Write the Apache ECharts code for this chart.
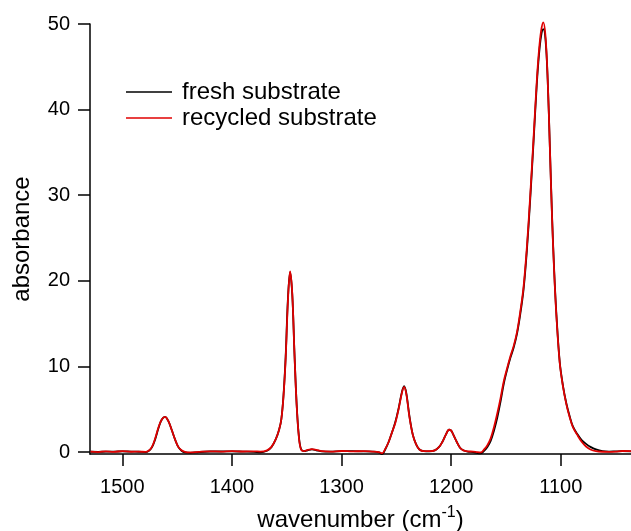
<!DOCTYPE html>
<html>
<head>
<meta charset="utf-8">
<script src="https://cdn.jsdelivr.net/npm/echarts@6/dist/echarts.min.js"></script>
<style>
  html, body { margin: 0; padding: 0; background: #fff; }
  #chart { width: 631px; height: 531px; }
</style>
</head>
<body>
<div id="chart"></div>
<script>
// IR absorbance spectra, wavenumber axis runs high -> low
const wavenumbers = [1529, 1522, 1515, 1508, 1500, 1492, 1485, 1479, 1476, 1473, 1470, 1467, 1464, 1461, 1458, 1455, 1452, 1449, 1446, 1443, 1438, 1430, 1420, 1410, 1400, 1390, 1380, 1374, 1368, 1364, 1360, 1357, 1355, 1353, 1351, 1349, 1347, 1345, 1343, 1341, 1339, 1337, 1334, 1331, 1327, 1323, 1318, 1310, 1300, 1290, 1280, 1272, 1266, 1263, 1260, 1257, 1254, 1251, 1248, 1245, 1243, 1241, 1238, 1235, 1232, 1229, 1225, 1220, 1215, 1211, 1208, 1205, 1202, 1200, 1198, 1195, 1192, 1189, 1185, 1180, 1176, 1173, 1170, 1167, 1164, 1161, 1158, 1155, 1152, 1149, 1146, 1143, 1140, 1137, 1134, 1131, 1128, 1125, 1122, 1120, 1118, 1116, 1114, 1112, 1110, 1108, 1106, 1104, 1101, 1098, 1095, 1092, 1089, 1085, 1081, 1077, 1073, 1068, 1062, 1056, 1050, 1044, 1036];

const freshSubstrate = [0.03, 0.02, 0.05, 0.04, 0.08, 0.05, 0.03, 0.0, 0.12, 0.55, 1.5, 2.8, 3.8, 4.1, 3.6, 2.6, 1.5, 0.6, 0.15, -0.05, -0.1, 0.0, 0.06, 0.06, 0.08, 0.05, 0.02, -0.05, 0.15, 0.55, 1.5, 2.6, 3.8, 6.6, 11.2, 17.8, 21.0, 18.4, 11.6, 5.6, 1.9, 0.35, 0.1, 0.2, 0.3, 0.2, 0.08, 0.05, 0.1, 0.1, 0.08, 0.05, -0.05, -0.25, 0.35, 1.2, 2.3, 3.5, 5.1, 7.0, 7.7, 6.9, 4.1, 2.0, 0.9, 0.3, 0.1, 0.08, 0.2, 0.6, 1.2, 2.0, 2.6, 2.5, 2.0, 1.2, 0.5, 0.2, 0.05, 0.0, -0.12, -0.15, 0.15, 0.6, 1.3, 2.5, 4.0, 5.9, 8.0, 9.6, 11.0, 12.2, 13.8, 16.1, 19.0, 23.5, 29.4, 36.0, 42.8, 46.3, 48.6, 49.4, 48.2, 43.5, 35.6, 27.5, 21.0, 16.0, 10.5, 7.7, 5.7, 4.2, 3.0, 2.1, 1.4, 0.95, 0.6, 0.3, 0.1, 0.05, 0.08, 0.1, 0.08];

const recycledSubstrate = [0.05, 0.0, 0.08, 0.02, 0.1, 0.03, 0.05, 0.02, 0.15, 0.6, 1.6, 2.9, 3.8, 4.1, 3.6, 2.6, 1.5, 0.6, 0.2, 0.02, -0.05, 0.02, 0.08, 0.05, 0.1, 0.06, 0.08, 0.05, 0.2, 0.6, 1.5, 2.6, 3.8, 6.5, 11.0, 17.5, 21.1, 18.5, 11.5, 5.5, 1.8, 0.3, 0.1, 0.25, 0.35, 0.25, 0.1, 0.05, 0.12, 0.08, 0.1, 0.05, 0.0, -0.15, 0.4, 1.2, 2.3, 3.4, 5.0, 6.9, 7.6, 6.8, 4.0, 2.0, 0.9, 0.3, 0.1, 0.1, 0.2, 0.6, 1.2, 2.0, 2.6, 2.5, 2.0, 1.2, 0.5, 0.2, 0.08, 0.05, -0.02, -0.05, 0.3, 0.8, 1.6, 2.9, 4.5, 6.3, 8.3, 9.8, 11.2, 12.4, 14.0, 16.4, 19.3, 23.9, 29.8, 36.4, 43.2, 46.8, 49.2, 50.2, 48.6, 43.5, 35.5, 27.3, 20.8, 15.8, 10.4, 7.6, 5.6, 4.1, 2.9, 2.0, 1.2, 0.65, 0.3, 0.1, 0.03, 0.02, 0.05, 0.12, 0.1];

const xTicks = [1500, 1400, 1300, 1200, 1100];
const yTicks = [0, 10, 20, 30, 40, 50];

const seriesNames = ['fresh substrate', 'recycled substrate'];
const seriesColors = ['#000000', '#e00000'];

const pairs = (ys) => wavenumbers.map((w, i) => [w, ys[i]]);

const FONT = 'Liberation Sans, Arial, sans-serif';

const chart = echarts.init(document.getElementById('chart'), null, { renderer: 'canvas' });

chart.setOption({
  animation: false,
  backgroundColor: '#ffffff',
  textStyle: { fontFamily: FONT, color: '#000' },
  grid: { left: 90, right: 0, top: 24, bottom: 77, containLabel: false, outerBoundsMode: 'none' },
  legend: {
    left: 126,
    top: 79,
    padding: 0,
    orient: 'vertical',
    icon: 'rect',
    itemWidth: 46,
    itemHeight: 1.6,
    itemGap: 0,
    data: seriesNames,
    textStyle: { fontFamily: FONT, fontSize: 24, color: '#000', lineHeight: 26, padding: [0, 0, 0, 5] }
  },
  xAxis: {
    type: 'value',
    inverse: true,
    min: 1036,
    max: 1529.5,
    name: '{t|wavenumber (cm}{s|-1}{t|)}',
    nameLocation: 'middle',
    nameGap: 51,
    nameTextStyle: {
      rich: {
        t: { fontFamily: FONT, fontSize: 24, color: '#000' },
        s: { fontFamily: FONT, fontSize: 16, color: '#000', padding: [0, 0, 14, 0] }
      }
    },
    splitLine: { show: false },
    axisLine: { show: true, onZero: false, lineStyle: { color: '#000', width: 1.5 } },
    axisTick: { show: true, inside: false, length: 12, customValues: xTicks, lineStyle: { color: '#000', width: 1.5 } },
    axisLabel: { customValues: xTicks, margin: 23, fontSize: 20, color: '#000', fontFamily: FONT, formatter: (v) => String(v) }
  },
  yAxis: {
    type: 'value',
    min: -0.23,
    max: 50,
    name: 'absorbance',
    nameLocation: 'middle',
    nameGap: 56,
    nameTextStyle: { fontFamily: FONT, fontSize: 24, color: '#000' },
    splitLine: { show: false },
    axisLine: { show: true, onZero: false, lineStyle: { color: '#000', width: 1.5 } },
    axisTick: { show: true, inside: false, length: 12, customValues: yTicks, lineStyle: { color: '#000', width: 1.5 } },
    axisLabel: { customValues: yTicks, margin: 20, fontSize: 20, color: '#000', fontFamily: FONT, formatter: (v) => String(v) }
  },
  series: [
    {
      name: seriesNames[0],
      type: 'line',
      data: pairs(freshSubstrate),
      showSymbol: false,
      symbol: 'none',
      smooth: 0.35,
      clip: false,
      color: seriesColors[0],
      lineStyle: { color: seriesColors[0], width: 1.8 }
    },
    {
      name: seriesNames[1],
      type: 'line',
      data: pairs(recycledSubstrate),
      showSymbol: false,
      symbol: 'none',
      smooth: 0.35,
      clip: false,
      color: seriesColors[1],
      lineStyle: { color: seriesColors[1], width: 1.8 }
    }
  ]
});
</script>
</body>
</html>
